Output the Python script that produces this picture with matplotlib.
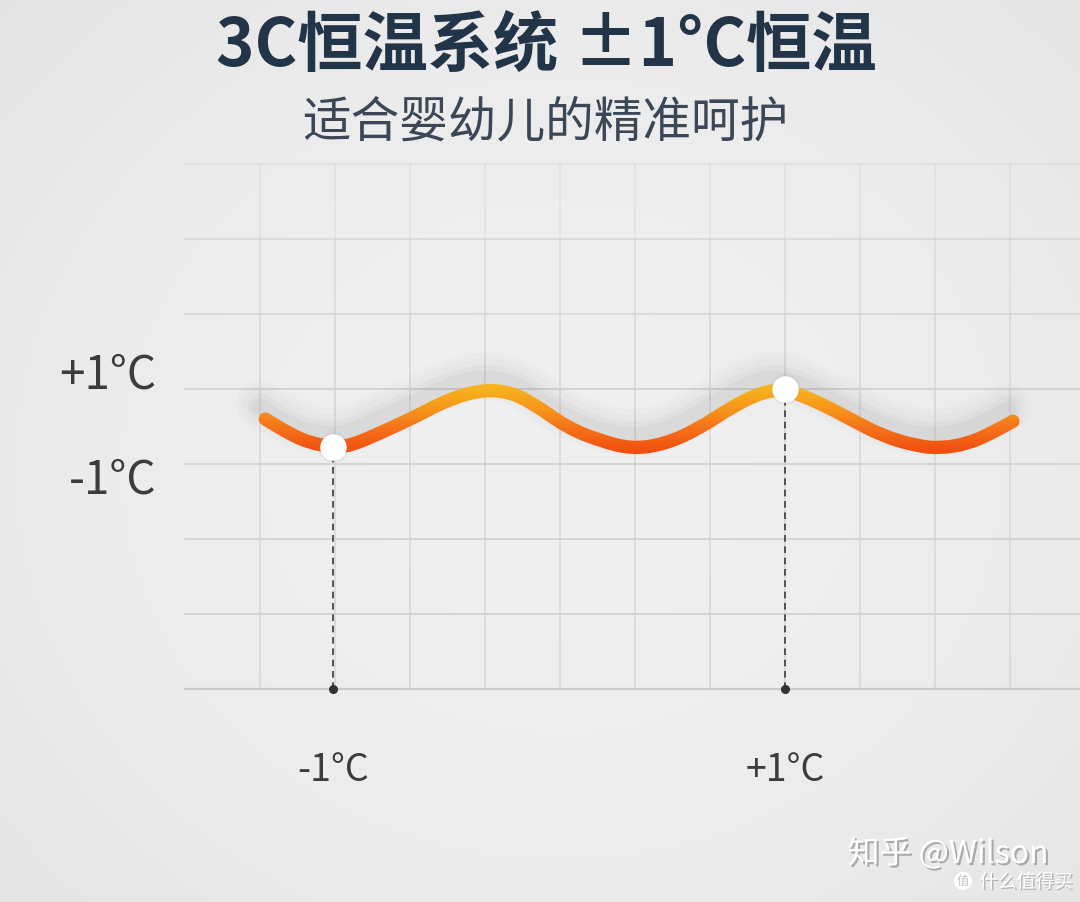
import numpy as np
import matplotlib
matplotlib.use("Agg")
import matplotlib.pyplot as plt
from matplotlib.colors import LinearSegmentedColormap, Normalize
from matplotlib.path import Path
from matplotlib.patches import PathPatch
import matplotlib.transforms as mtransforms
import matplotlib.patheffects as pe

plt.rcParams['font.family'] = ['Noto Sans CJK SC', 'DejaVu Sans']

# ---------------- data ----------------
title = "3C恒温系统 ±1°C恒温"
subtitle = "适合婴幼儿的精准呵护"

# temperature wave (grid units: 1 unit = one grid cell)
wave_x = [0.07, 0.40, 0.67, 0.97, 1.20, 1.64, 2.09, 2.53, 2.97, 3.33, 3.64, 4.09, 4.53, 4.97,
          5.41, 5.85, 6.29, 6.67, 7.00, 7.43, 7.87, 8.31, 8.76, 9.07, 9.43, 9.73, 10.04]
wave_y = [3.60, 3.40, 3.28, 3.23, 3.24, 3.43, 3.64, 3.87, 3.99, 3.96, 3.81, 3.49, 3.31, 3.20,
          3.27, 3.47, 3.76, 3.95, 4.00, 3.83, 3.60, 3.37, 3.24, 3.21, 3.27, 3.40, 3.57]

marker_x = [0.97, 7.00]
marker_y = [3.23, 4.00]
marker_labels = ["-1°C", "+1°C"]

level_labels = ["+1°C", "-1°C"]
level_y = [4.2, 2.8]

grid_x = list(range(0, 11))
grid_y = list(range(0, 8))

# ---------------- figure ----------------
W, H = 1080, 903
fig = plt.figure(figsize=(W / 100, H / 100), dpi=100)
ax = fig.add_axes([0, 0, 1, 1])
x0_px, y0_px, unit = 260, 690, 75.0
xlim = (-x0_px / unit, (W - x0_px) / unit)
ylim = (-(H - y0_px) / unit, y0_px / unit)
ax.set_xlim(*xlim)
ax.set_ylim(*ylim)
ax.axis('off')

# background radial gradient
gx = np.linspace(0, 1, 300)
gy = np.linspace(0, 1, 250)
GX, GY = np.meshgrid(gx, gy)
r = np.sqrt(((GX - 0.52) / 0.8) ** 2 + ((GY - 0.52) / 0.85) ** 2)
bg = 0.94 - 0.055 * np.clip(r, 0, 1.3) ** 2
ax.imshow(np.dstack([bg, bg, bg]), extent=[*xlim, *ylim], origin='upper',
          aspect='auto', zorder=0, interpolation='bicubic')

# grid
for gxv in grid_x:
    ax.plot([gxv, gxv], [0, 5], color='#d6d6d6', lw=1.1, zorder=1)
    ax.plot([gxv, gxv], [5, 6], color='#d6d6d6', lw=1.1, alpha=0.8, zorder=1)
    ax.plot([gxv, gxv], [6, grid_y[-1]], color='#d6d6d6', lw=1.1, alpha=0.55, zorder=1)
for gyv in grid_y[1:]:
    a = 1.0 if gyv < 5 else (0.75 if gyv < 7 else 0.45)
    ax.plot([-1.0, xlim[1]], [gyv, gyv], color='#d3d3d3', lw=1.3, alpha=a, zorder=1)
ax.plot([-1.0, xlim[1]], [0, 0], color='#cbcbcb', lw=1.6, zorder=1)

# smooth path through the read points (quadratic smoothing for drawing)
pts = np.column_stack([wave_x, wave_y])
verts = [tuple(pts[0]), tuple((pts[0] + pts[1]) / 2)]
codes = [Path.MOVETO, Path.LINETO]
for i in range(1, len(pts) - 1):
    verts += [tuple(pts[i]), tuple((pts[i] + pts[i + 1]) / 2)]
    codes += [Path.CURVE3, Path.CURVE3]
verts.append(tuple(pts[-1]))
codes.append(Path.LINETO)
wave_path = Path(verts, codes)

# shadow of the wave
for lw, al, dy in [(34, 0.018, 15), (26, 0.025, 14), (18, 0.035, 13), (12, 0.045, 12)]:
    sh = mtransforms.offset_copy(ax.transData, fig=fig, x=-5, y=dy, units='dots')
    p = PathPatch(wave_path, fill=False, ec='#505050', lw=lw, alpha=al, transform=sh,
                  capstyle='round', joinstyle='round', zorder=2)
    ax.add_patch(p)

# gradient wave: same path drawn in horizontal colour bands
cmap = LinearSegmentedColormap.from_list('heat', ['#f04f0e', '#f4701a', '#f6961b', '#f7b41d'])
norm = Normalize(vmin=3.18, vmax=4.02)
edges = np.linspace(3.0, 4.25, 80)
for k in range(len(edges) - 1):
    lo = edges[k] if k > 0 else ylim[0]
    hi = edges[k + 1] if k < len(edges) - 2 else ylim[1]
    col = cmap(norm((edges[k] + edges[k + 1]) / 2))
    p = PathPatch(wave_path, fill=False, ec=col, lw=9.6, capstyle='round',
                  joinstyle='round', zorder=3)
    ax.add_patch(p)
    bb = mtransforms.TransformedBbox(mtransforms.Bbox([[xlim[0], lo], [xlim[1], hi]]),
                                     ax.transData)
    p.set_clip_box(bb)

# dashed drops and markers
for mx, my, lab in zip(marker_x, marker_y, marker_labels):
    ax.plot([mx, mx], [0, my], color='#3a3a3a', lw=1.2, ls=(0, (4, 2.8)), zorder=3)
    ax.plot([mx], [0], 'o', color='#333333', ms=5.5, zorder=4)
    ax.plot([mx], [my], 'o', color='#999999', ms=22, alpha=0.12, mec='none', zorder=4)
    ax.plot([mx], [my], 'o', color='white', ms=19, mec='none', zorder=5)
    ax.text(mx, -1.07, lab, ha='center', va='center', fontsize=27, color='#3c3c3c', zorder=5)

for lab, ly in zip(level_labels, level_y):
    ax.text(-1.38, ly, lab, ha='right', va='center', fontsize=33, color='#3c3c3c', zorder=5)

# titles
fig.text(546 / W, 1 - 46 / H, title, ha='center', va='center', fontsize=47,
         weight='bold', color='#213448')
fig.text(545 / W, 1 - 123 / H, subtitle, ha='center', va='center', fontsize=35,
         color='#3b4756')

# watermark
fig.text(948 / W, 1 - 855 / H, "知乎 @Wilson", ha='center', va='center', fontsize=23,
         color='white', path_effects=[pe.withSimplePatchShadow(offset=(1.5, -1.5),
                                                             shadow_rgbFace='#9a9a9a', alpha=0.8)])
fig.text(963 / W, 1 - 882 / H, "值", ha='center', va='center', fontsize=9, color='#c8c8c8',
         bbox=dict(boxstyle='circle,pad=0.2', fc='white', ec='none'))
fig.text(1026 / W, 1 - 883 / H, "什么值得买", ha='center', va='center', fontsize=13.5,
         color='white', path_effects=[pe.withSimplePatchShadow(offset=(1, -1),
                                                             shadow_rgbFace='#a0a0a0', alpha=0.7)])

fig.savefig('out.png', dpi=100)
